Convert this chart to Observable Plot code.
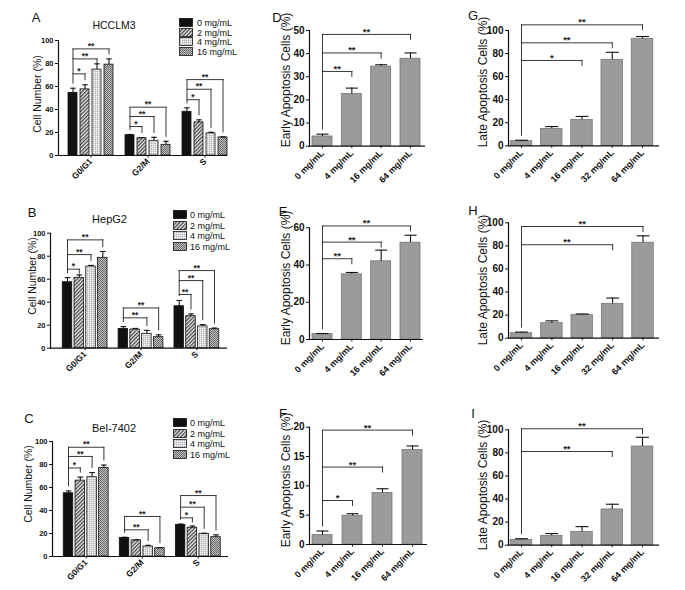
<!DOCTYPE html>
<html><head><meta charset="utf-8">
<script src="https://cdn.jsdelivr.net/npm/d3@7"></script>
<script src="https://cdn.jsdelivr.net/npm/@observablehq/plot@0.6"></script>
<style>
body{margin:0;background:#fff;}
#fig{position:relative;width:685px;height:590px;overflow:hidden;background:#fff;font-family:"Liberation Sans",Arial,sans-serif;color:#111;}
.c{position:absolute;white-space:nowrap;line-height:1;transform:translate(-50%,-50%);}
.ylab{position:absolute;white-space:nowrap;line-height:1;transform:translate(-50%,-50%) rotate(-90deg);}
.lt{position:absolute;white-space:nowrap;line-height:1;transform:translateY(-50%);}
.pw{position:absolute;}
</style></head><body>
<svg width="0" height="0" style="position:absolute;left:0;top:0"><defs>
<pattern id="hatch2" patternUnits="userSpaceOnUse" width="2.6" height="2.6" patternTransform="rotate(45)">
<rect width="2.6" height="2.6" fill="#e4e4e4"/><rect width="1.2" height="2.6" fill="#444"/></pattern>
<pattern id="dots4" patternUnits="userSpaceOnUse" width="2" height="2">
<rect width="2" height="2" fill="#d4d4d4"/><rect width="1" height="1" fill="#f6f6f6"/><rect x="1" y="1" width="1" height="1" fill="#bbbbbb"/></pattern>
<pattern id="cross16" patternUnits="userSpaceOnUse" width="2" height="2">
<rect width="2" height="2" fill="#c4c4c4"/><rect width="1" height="1" fill="#666"/><rect x="1" y="1" width="1" height="1" fill="#666"/></pattern>
</defs></svg>
<div id="fig"></div>
<script>
// ---------- data ----------
const phases = ["G0/G1", "G2/M", "S"];
const cycleDoses = ["0 mg/mL", "2 mg/mL", "4 mg/mL", "16 mg/mL"];

const hcclm3Mean = [[54.5, 57.5, 74.7, 79], [17.7, 15, 12.8, 9.3], [38, 28.8, 19.2, 15.7]];
const hcclm3Sd   = [[4, 4, 5, 5], [0.6, 0.6, 3, 3], [3.5, 2.2, 1, 0.5]];
const hcclm3Sig  = [[[1, 71, "*"], [2, 84, "**"], [3, 92.7, "**"]],
                    [[1, 25.2, "*"], [2, 33.9, "**"], [3, 42, "**"]],
                    [[1, 48.5, "*"], [2, 57.6, "**"], [3, 66, "**"]]];

const hepg2Mean = [[57.4, 61.2, 71, 78.6], [16.8, 16.2, 12.5, 9.6], [36.5, 27.8, 19, 16.5]];
const hepg2Sd   = [[4, 2.5, 1, 5.5], [2, 1, 3, 2], [5, 2, 1.5, 1]];
const hepg2Sig  = [[[1, 68.7, "*"], [2, 81.4, "**"], [3, 94.2, "**"]],
                   [[2, 26.4, "**"], [3, 35, "**"]],
                   [[1, 46.7, "**"], [2, 58.8, "**"], [3, 67.5, "**"]]];

const bel7402Mean = [[55, 66, 69, 77], [16.2, 14, 8.7, 7.2], [27.5, 25, 19.7, 16.8]];
const bel7402Sd   = [[2, 3, 4, 2.5], [0.5, 0.5, 1, 0.5], [0.7, 1.5, 0.5, 2]];
const bel7402Sig  = [[[1, 77, "*"], [2, 87, "**"], [3, 95, "**"]],
                     [[2, 23.2, "**"], [3, 34.8, "**"]],
                     [[1, 33.6, "*"], [2, 42.9, "**"], [3, 53, "**"]]];

const earlyDoses = ["0 mg/mL", "4 mg/mL", "16 mg/mL", "64 mg/mL"];
const lateDoses  = ["0 mg/mL", "4 mg/mL", "16 mg/mL", "32 mg/mL", "64 mg/mL"];

const earlyD = [4.2, 22.6, 34.4, 37.8];  const earlyDSd = [1, 2.5, 0.8, 2.5];
const earlyDSig = [[1, 32.3, "**"], [2, 40.3, "**"], [3, 48.3, "**"]];
const earlyE = [3.0, 35, 42, 52];        const earlyESd = [0.2, 1, 6, 4];
const earlyESig = [[1, 43.4, "**"], [2, 52.3, "**"], [3, 61, "**"]];
const earlyF = [1.6, 4.9, 8.8, 16.1];    const earlyFSd = [0.7, 0.35, 0.7, 0.7];
const earlyFSig = [[1, 7.5, "*"], [2, 13.2, "**"], [3, 19.5, "**"]];

const lateG = [4, 14.7, 22.5, 74.6, 92.8];  const lateGSd = [0.8, 2, 3, 6.5, 2];
const lateGSig = [[2, 74, "*"], [3, 89.3, "**"], [4, 104.9, "**"]];
const lateH = [4.3, 13, 20, 29.8, 82.7];    const lateHSd = [1, 2, 1, 5, 6];
const lateHSig = [[3, 81, "**"], [4, 96.8, "**"]];
const lateI = [4.6, 8.1, 11.6, 31, 85.5];   const lateISd = [1, 2, 4.5, 4.5, 8];
const lateISig = [[3, 81.2, "**"], [4, 100.9, "**"]];

const cycleTicks = [0, 20, 40, 60, 80, 100];
const ticksD = [0, 10, 20, 30, 40, 50];
const ticksE = [0, 20, 40, 60];
const ticksF = [0, 5, 10, 15, 20];
const ticksLate = [0, 20, 40, 60, 80, 100];

// ---------- helpers ----------
const fig = document.getElementById("fig");
const FONT = "'Liberation Sans', Arial, sans-serif";
const GROUP_STEP = 4.75;
const cycleFills = ["#111", "url(#hatch2)", "url(#dots4)", "url(#cross16)"];

function addText(txt, cx, cy, size, cls = "c", weight = "normal") {
  const d = document.createElement("div");
  d.className = cls; d.textContent = txt;
  d.style.left = cx + "px"; d.style.top = cy + "px";
  d.style.fontSize = size + "px"; d.style.fontWeight = weight;
  fig.appendChild(d);
}

function addLegend(x, tx, ys) {
  cycleDoses.forEach((lab, k) => {
    const s = document.createElementNS("http://www.w3.org/2000/svg", "svg");
    s.setAttribute("width", 15); s.setAttribute("height", 10);
    s.style.position = "absolute"; s.style.left = x + "px"; s.style.top = (ys[k] - 5) + "px";
    s.innerHTML = `<rect x="0.5" y="0.5" width="13" height="8" fill="${cycleFills[k]}" stroke="#111" stroke-width="0.8"/>`;
    fig.appendChild(s);
    addText(lab, tx, ys[k], 9, "lt");
  });
}

function buildBrackets(bars, sigGroups, ppu, mode) {
  const segs = [], labels = [];
  const gapU = 5 / ppu;
  sigGroups.forEach((list, g) => {
    if (!list.length) return;
    const b0 = bars.find(b => b.g === g && b.k === 0);
    const maxH = d3.max(list, s => s[1]);
    segs.push({x1: b0.pos, x2: b0.pos, y1: maxH, y2: b0.mean + b0.sd + gapU});
    list.forEach(([t, h, lab]) => {
      const bt = bars.find(b => b.g === g && b.k === t);
      segs.push({x1: b0.pos, x2: bt.pos, y1: h, y2: h});
      const end = mode === "long" ? Math.min(h - 4 / ppu, bt.mean + bt.sd + gapU) : h - 5 / ppu;
      segs.push({x1: bt.pos, x2: bt.pos, y1: h, y2: end});
      labels.push({x: (b0.pos + bt.pos) / 2, y: h, label: lab});
    });
  });
  return {segs, labels};
}

function drawPanel(cfg) {
  const {box, fr, yMax, yTicks, bars, sigGroups, mode, xTicks, xLabels, yFont, xFont, xPad,
         fillOf, barStroke, starFont} = cfg;
  const [left, top, W, H] = box;
  const p0 = d3.min(bars, b => b.pos), p1 = d3.max(bars, b => b.pos);
  const u = (fr.c1 - fr.c0) / (p1 - p0);
  const dom = [p0 - (fr.c0 - fr.x0) / u, p1 + (fr.x1 - fr.c1) / u];
  const w = fr.bw / u, cw = 0.6 * w;
  const ppu = (fr.yBot - fr.yTop) / yMax;
  const {segs, labels} = buildBrackets(bars, sigGroups, ppu, mode);
  const labelMap = new Map(xTicks.map((t, i) => [t, xLabels[i]]));
  const svg = Plot.plot({
    width: W, height: H,
    marginLeft: fr.x0 - left, marginRight: left + W - fr.x1,
    marginTop: fr.yTop - top, marginBottom: top + H - fr.yBot,
    x: {domain: dom},
    y: {domain: [0, yMax]},
    color: {type: "identity"},
    style: {fontFamily: FONT, background: "none", overflow: "visible", color: "#111"},
    marks: [
      Plot.rect(bars, {x1: b => b.pos - w / 2, x2: b => b.pos + w / 2, y1: 0, y2: "mean",
        fill: b => fillOf(b.k), stroke: barStroke, strokeWidth: 0.8}),
      Plot.ruleX(bars, {x: "pos", y1: "mean", y2: b => b.mean + b.sd, stroke: "#111", strokeWidth: 1.1}),
      Plot.link(bars, {x1: b => b.pos - cw / 2, x2: b => b.pos + cw / 2,
        y1: b => b.mean + b.sd, y2: b => b.mean + b.sd, stroke: "#111", strokeWidth: 1.1}),
      Plot.link(segs, {x1: "x1", x2: "x2", y1: "y1", y2: "y2", stroke: "#222", strokeWidth: 0.9, strokeLinecap: "square"}),
      Plot.text(labels, {x: "x", y: "y", text: "label", lineAnchor: "middle", dy: -2.5,
        fontSize: starFont, fontWeight: "bold", fill: "#222"}),
      Plot.ruleY([0], {stroke: "#111", strokeWidth: 1.2}),
      Plot.frame({anchor: "left", stroke: "#111", strokeWidth: 1.2}),
      Plot.axisY({ticks: yTicks, tickSize: 3, tickPadding: 2, fontSize: yFont, fontWeight: "bold", label: null, tickFormat: d => String(d)}),
      Plot.axisX({ticks: xTicks, tickSize: 2.5, tickPadding: xPad, tickRotate: -45, fontSize: xFont, fontWeight: "bold",
        label: null, tickFormat: d => labelMap.get(d)})
    ]
  });
  const wrap = document.createElement("div");
  wrap.className = "pw";
  wrap.style.left = left + "px"; wrap.style.top = top + "px";
  wrap.style.width = W + "px"; wrap.style.height = H + "px";
  wrap.appendChild(svg);
  fig.appendChild(wrap);
}

function cycleBars(means, sds) {
  const out = [];
  means.forEach((row, g) => row.forEach((m, k) => out.push({g, k, pos: g * GROUP_STEP + k, mean: m, sd: sds[g][k]})));
  return out;
}
function simpleBars(means, sds) {
  return means.map((m, k) => ({g: 0, k, pos: k, mean: m, sd: sds[k]}));
}
const cycleTickPos = phases.map((p, g) => g * GROUP_STEP + 1.5);

// ---------- cell cycle panels (A-C) ----------
const cyclePanels = [
  {box: [0, 0, 235, 190], fr: {x0: 58, x1: 227, c0: 72.5, c1: 222.5, bw: 9, yTop: 40, yBot: 155},
   means: hcclm3Mean, sds: hcclm3Sd, sig: hcclm3Sig},
  {box: [0, 190, 235, 190], fr: {x0: 50, x1: 227, c0: 67, c1: 214, bw: 9.5, yTop: 232.7, yBot: 347.7},
   means: hepg2Mean, sds: hepg2Sd, sig: hepg2Sig},
  {box: [0, 380, 235, 210], fr: {x0: 52, x1: 228, c0: 68, c1: 215.5, bw: 9.5, yTop: 441, yBot: 556},
   means: bel7402Mean, sds: bel7402Sd, sig: bel7402Sig}
];
cyclePanels.forEach(p => drawPanel({
  box: p.box, fr: p.fr, yMax: 100, yTicks: cycleTicks,
  bars: cycleBars(p.means, p.sds), sigGroups: p.sig, mode: "long",
  xTicks: cycleTickPos, xLabels: phases, yFont: 7.5, xFont: 8.5, xPad: 2,
  fillOf: k => cycleFills[k], barStroke: "#111", starFont: 8.5
}));

// ---------- apoptosis panels (D-I) ----------
const apoPanels = [
  {box: [235, 0, 225, 190], fr: {x0: 309, x1: 425, c0: 322, c1: 410, bw: 20, yTop: 30, yBot: 145.7},
   yMax: 50, ticks: ticksD, means: earlyD, sds: earlyDSd, sig: earlyDSig, doses: earlyDoses},
  {box: [235, 190, 225, 190], fr: {x0: 309, x1: 423, c0: 322, c1: 410, bw: 20, yTop: 227.3, yBot: 339},
   yMax: 60, ticks: ticksE, means: earlyE, sds: earlyESd, sig: earlyESig, doses: earlyDoses},
  {box: [235, 380, 225, 210], fr: {x0: 309, x1: 427, c0: 322, c1: 412, bw: 20, yTop: 426.7, yBot: 544},
   yMax: 20, ticks: ticksF, means: earlyF, sds: earlyFSd, sig: earlyFSig, doses: earlyDoses},
  {box: [460, 0, 225, 190], fr: {x0: 508, x1: 659, c0: 521, c1: 642, bw: 21.5, yTop: 30, yBot: 145.3},
   yMax: 100, ticks: ticksLate, means: lateG, sds: lateGSd, sig: lateGSig, doses: lateDoses},
  {box: [460, 190, 225, 190], fr: {x0: 508, x1: 659, c0: 521, c1: 642.5, bw: 21.5, yTop: 222.3, yBot: 337.7},
   yMax: 100, ticks: ticksLate, means: lateH, sds: lateHSd, sig: lateHSig, doses: lateDoses},
  {box: [460, 380, 225, 210], fr: {x0: 508, x1: 659, c0: 521, c1: 642, bw: 21.5, yTop: 429.3, yBot: 544.7},
   yMax: 100, ticks: ticksLate, means: lateI, sds: lateISd, sig: lateISig, doses: lateDoses}
];
apoPanels.forEach(p => drawPanel({
  box: p.box, fr: p.fr, yMax: p.yMax, yTicks: p.ticks,
  bars: simpleBars(p.means, p.sds), sigGroups: [p.sig], mode: "short",
  xTicks: p.doses.map((d, k) => k), xLabels: p.doses, yFont: 10, xFont: 9, xPad: 3,
  fillOf: () => "#9b9b9b", barStroke: "#777", starFont: 9.5
}));

// ---------- text annotations ----------
[["A", 36, 17], ["B", 32, 212], ["C", 29, 418], ["D", 277, 17], ["E", 283, 211], ["F", 283, 413],
 ["G", 473, 15], ["H", 473, 210], ["I", 473, 413]].forEach(([t, x, y]) => addText(t, x, y, 13));
addText("HCCLM3", 114, 25, 10.5);
addText("HepG2", 109.5, 219, 11);
addText("Bel-7402", 114, 428, 11);
[[37, 94], [32, 276], [28, 484]].forEach(([x, y]) => addText("Cell Number (%)", x, y, 10.5, "ylab"));
[[286, 80], [286, 278], [286, 480]].forEach(([x, y]) => addText("Early Apoptosis Cells (%)", x, y, 12, "ylab"));
[[483, 82], [483, 280], [483, 485]].forEach(([x, y]) => addText("Late Apoptosis Cells (%)", x, y, 12, "ylab"));
addLegend(179, 197, [23, 32.5, 42, 51.5]);
addLegend(173, 190, [215, 225.5, 236, 246.5]);
addLegend(173, 190, [423, 433.7, 444.3, 455]);
</script>
</body></html>
